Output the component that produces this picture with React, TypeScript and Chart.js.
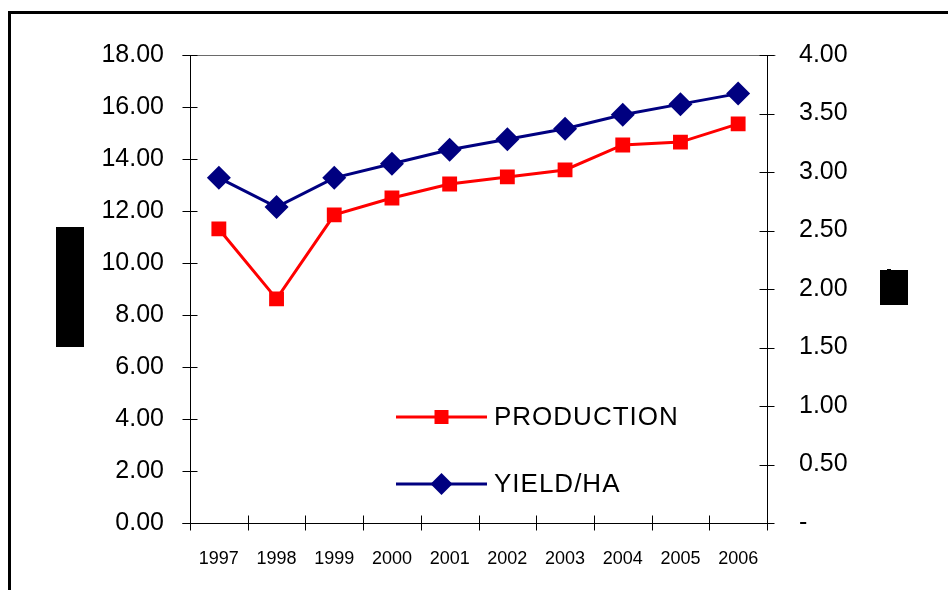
import React, { useEffect, useRef } from 'react';
import { Chart, registerables } from 'chart.js';

Chart.register(...registerables);

const categories = ['1997', '1998', '1999', '2000', '2001', '2002', '2003', '2004', '2005', '2006'];
const production = [11.31, 8.62, 11.85, 12.5, 13.04, 13.31, 13.58, 14.54, 14.65, 15.35];
const yieldPerHa = [2.95, 2.7, 2.95, 3.07, 3.19, 3.28, 3.37, 3.49, 3.58, 3.67];
const seriesNames = ['PRODUCTION', 'YIELD/HA'];
const leftAxisRange = [0, 18, 2];
const rightAxisRange = [0, 4, 0.5];

const FONT = "'Liberation Sans', Arial, sans-serif";

function seg(ctx: CanvasRenderingContext2D, x1: number, y1: number, x2: number, y2: number) {
  ctx.beginPath();
  ctx.moveTo(x1, y1);
  ctx.lineTo(x2, y2);
  ctx.stroke();
}

const axesPlugin = {
  id: 'excelAxes',
  beforeDatasetsDraw(chart: any) {
    const { ctx, chartArea: a } = chart;
    const ys = chart.scales.y;
    const yr = chart.scales.y1;
    const L = Math.round(a.left) + 0.5;
    const R = Math.round(a.right) + 0.5;
    const T = Math.round(a.top) + 0.5;
    const B = Math.round(a.bottom) + 0.5;
    ctx.save();
    ctx.lineWidth = 1;
    ctx.strokeStyle = '#6a6a6a';
    seg(ctx, L - 8, T, R + 8, T);
    ctx.strokeStyle = '#000';
    seg(ctx, L, T, L, B + 7);
    seg(ctx, R, T, R, B + 7);
    seg(ctx, L - 8, B, R + 2, B);
    ys.ticks.forEach((_t: any, i: number) => {
      const p = Math.round(ys.getPixelForTick(i)) + 0.5;
      seg(ctx, L - 8, p, L + 7, p);
    });
    yr.ticks.forEach((_t: any, i: number) => {
      const p = Math.round(yr.getPixelForTick(i)) + 0.5;
      seg(ctx, R - 8, p, R + 7, p);
    });
    const n = categories.length;
    for (let i = 1; i < n; i++) {
      const px = Math.round(a.left + ((a.right - a.left) * i) / n) + 0.5;
      seg(ctx, px, B - 8, px, B + 7);
    }
    ctx.restore();
  },
  afterDatasetsDraw(chart: any) {
    const { ctx, chartArea: a } = chart;
    ctx.save();
    chart.data.datasets.forEach((ds: any, i: number) => {
      const y = a.top + 362 + i * 67;
      const x1 = a.left + 206;
      const x2 = a.left + 297;
      const cx = (x1 + x2) / 2;
      ctx.strokeStyle = ds.borderColor;
      ctx.lineWidth = 3;
      seg(ctx, x1, y, x2, y);
      ctx.fillStyle = ds.backgroundColor;
      if (ds.pointStyle === 'rect') {
        ctx.fillRect(cx - 7, y - 7, 14, 14);
      } else {
        ctx.beginPath();
        ctx.moveTo(cx, y - 11);
        ctx.lineTo(cx + 11, y);
        ctx.lineTo(cx, y + 11);
        ctx.lineTo(cx - 11, y);
        ctx.closePath();
        ctx.fill();
      }
      ctx.fillStyle = '#000';
      ctx.font = `26px ${FONT}`;
      (ctx as any).letterSpacing = '1px';
      ctx.textBaseline = 'middle';
      ctx.textAlign = 'left';
      ctx.fillText(ds.label, a.left + 304, y + 1);
    });
    ctx.restore();
  },
  afterDraw(chart: any) {
    const { ctx, chartArea: a } = chart;
    const mid = (a.top + a.bottom) / 2;
    ctx.save();
    ctx.fillStyle = '#000';
    ctx.fillRect(Math.round(a.left - 134), Math.round(mid - 62), 28, 120);
    ctx.fillRect(Math.round(a.right + 113), Math.round(mid - 19), 28, 35);
    ctx.fillRect(Math.round(a.right + 120), Math.round(mid - 20), 4, 1);
    ctx.restore();
  },
};

export default function App() {
  const ref = useRef<HTMLCanvasElement>(null);
  useEffect(() => {
    if (!ref.current) return;
    const chart = new Chart(ref.current, {
      type: 'line',
      data: {
        labels: categories,
        datasets: [
          {
            label: seriesNames[0],
            data: production,
            yAxisID: 'y',
            borderColor: '#FF0000',
            backgroundColor: '#FF0000',
            borderWidth: 3,
            pointStyle: 'rect',
            pointRadius: 10.5,
            pointBorderWidth: 0,
            tension: 0,
          },
          {
            label: seriesNames[1],
            data: yieldPerHa,
            yAxisID: 'y1',
            borderColor: '#000080',
            backgroundColor: '#000080',
            borderWidth: 3,
            pointStyle: 'rectRot',
            pointRadius: 12,
            pointBorderWidth: 0,
            tension: 0,
          },
        ],
      },
      options: {
        responsive: false,
        animation: false,
        layout: { padding: { top: 55, left: 0, right: 0, bottom: 0 } },
        plugins: { legend: { display: false }, tooltip: { enabled: false } },
        scales: {
          x: {
            type: 'category',
            offset: true,
            grid: { display: false, drawTicks: false },
            border: { display: false },
            ticks: { color: '#000', font: { family: FONT, size: 18 }, padding: 25, maxRotation: 0, autoSkip: false },
            afterFit: (s: any) => { s.height = 67; },
          },
          y: {
            position: 'left',
            min: leftAxisRange[0],
            max: leftAxisRange[1],
            grid: { display: false, drawTicks: false },
            border: { display: false },
            ticks: {
              stepSize: leftAxisRange[2],
              color: '#000',
              font: { family: FONT, size: 25 },
              padding: 26,
              callback: (v: any) => Number(v).toFixed(2),
            },
            afterFit: (s: any) => { s.width = 190; },
          },
          y1: {
            position: 'right',
            min: rightAxisRange[0],
            max: rightAxisRange[1],
            grid: { display: false, drawTicks: false },
            border: { display: false },
            ticks: {
              stepSize: rightAxisRange[2],
              color: '#000',
              font: { family: FONT, size: 25 },
              padding: 32,
              callback: (v: any) => (Number(v) === 0 ? '-' : Number(v).toFixed(2)),
            },
            afterFit: (s: any) => { s.width = 181; },
          },
        },
      },
      plugins: [axesPlugin],
    });
    return () => chart.destroy();
  }, []);

  return (
    <div style={{ position: 'fixed', left: 0, top: 0, width: 948, height: 590, overflow: 'hidden', background: '#fff' }}>
      <div style={{ position: 'absolute', left: 8, top: 11, width: 2000, height: 2000, border: '3px solid #000' }} />
      <canvas ref={ref} width={948} height={590} style={{ position: 'absolute', left: 0, top: 0 }} />
    </div>
  );
}
